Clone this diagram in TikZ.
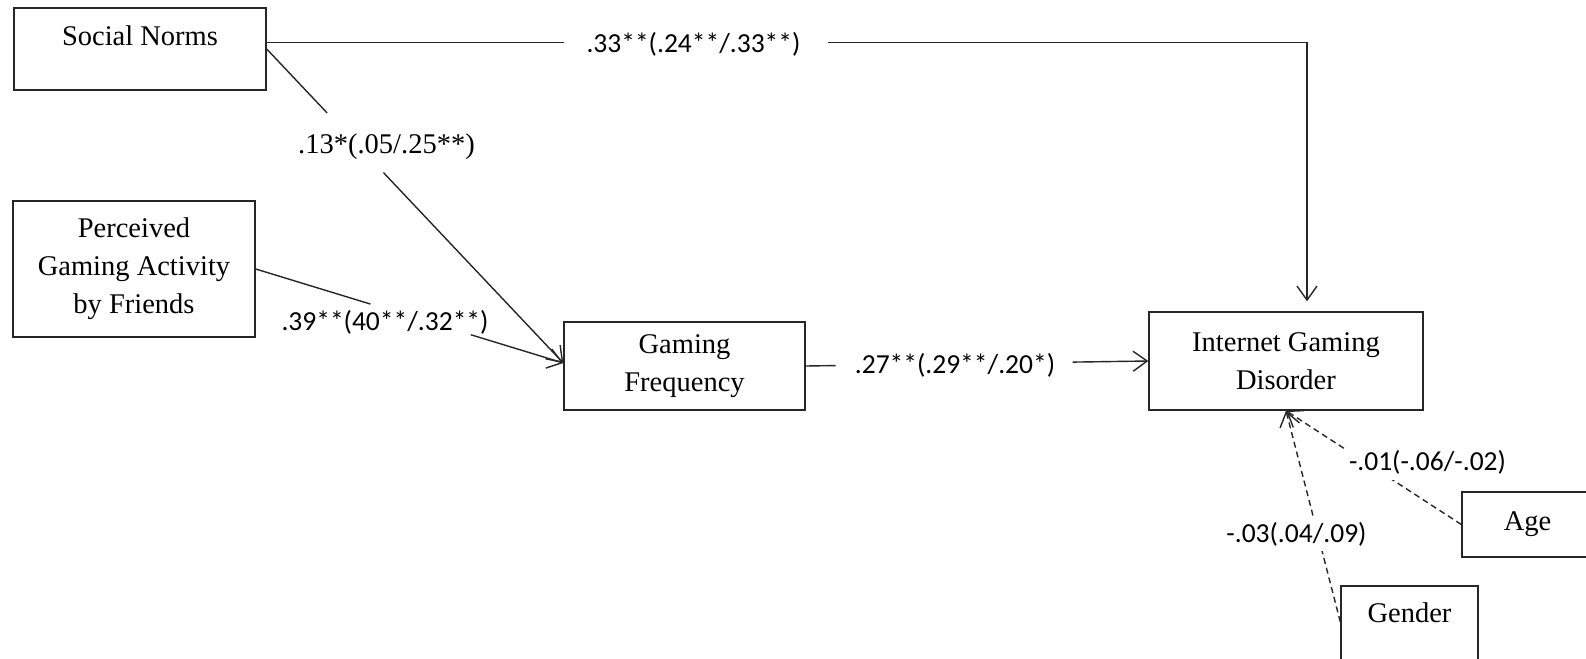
\documentclass[tikz,border=0pt]{standalone}
\usepackage{fontspec}
\setmainfont{Liberation Serif}
\newfontfamily\calib{Carlito}
\usetikzlibrary{arrows.meta}

\begin{document}
\begin{tikzpicture}[x=1pt,y=-1pt,
    every node/.style={font=\fontsize{28.5}{38}\selectfont},
    var/.style={draw=black!85,line width=1.4pt,align=center,inner sep=0pt},
    coef/.style={font=\calib\fontsize{27.5}{33}\selectfont,anchor=base,inner sep=0pt},
    link/.style={black!85,line width=1.4pt,-{Straight Barb[length=14pt,width=20pt]}},
    ctrl/.style={link,dash pattern=on 6pt off 4pt}]
  \useasboundingbox (0,0) rectangle (1586,658);
  % variables
  \node[var,minimum width=252pt,minimum height=82pt,text height=20pt,text depth=26pt] (norms) at (140,49) {Social Norms};
  \node[var,minimum width=242pt,minimum height=136pt] (friends) at (134,269) {Perceived\\Gaming Activity\\by Friends};
  \node[var,minimum width=241pt,minimum height=88pt] (freq) at (684.5,366) {Gaming\\Frequency};
  \node[var,minimum width=274pt,minimum height=98pt] (igd) at (1286,361) {Internet Gaming\\Disorder};
  \node[var,minimum width=131pt,minimum height=65pt] (age) at (1527.5,524.5) {Age};
  \node[var,minimum width=137pt,minimum height=74pt,text height=20pt,text depth=22pt] (gender) at (1409.5,623) {Gender};
  % paths (gaps leave room for the coefficients)
  \draw[link,dash pattern=on 297pt off 264pt on 2000pt off 1pt] ([yshift=6.3pt]norms.east) -| ([xshift=21pt,yshift=10pt]igd.north);
  \draw[link,dash pattern=on 88pt off 82pt on 2000pt off 1pt] (norms.east) -- ([yshift=3pt]freq.west);
  \draw[link,dash pattern=on 120pt off 105pt on 2000pt off 1pt] (friends.east) -- ([yshift=3pt]freq.west);
  \draw[link,dash pattern=on 30pt off 237pt on 2000pt off 1pt] (freq.east) -- (igd.west);
  \draw[ctrl] (age.west) -- (igd.south);
  \draw[ctrl] ([yshift=1pt]gender.west) -- (igd.south);
  % coefficients
  \node[coef] (bNorms) at (693.5,53) {.33**(.24**/.33**)};
  \node[coef,font=\fontsize{28.5}{34}\selectfont] (bNormsFreq) at (386.5,153) {.13*(.05/.25**)};
  \node[coef] (bFriends) at (385,330) {.39**(40**/.32**)};
  \node[coef] (bFreq) at (955,373) {.27**(.29**/.20*)};
  \node[coef,fill=white,inner xsep=2pt,inner ysep=6pt] (bAge) at (1427.5,470) {-.01(-.06/-.02)};
  \node[coef,fill=white,inner xsep=2pt,inner ysep=5pt] (bGender) at (1296.5,542) {-.03(.04/.09)};
\end{tikzpicture}
\end{document}
